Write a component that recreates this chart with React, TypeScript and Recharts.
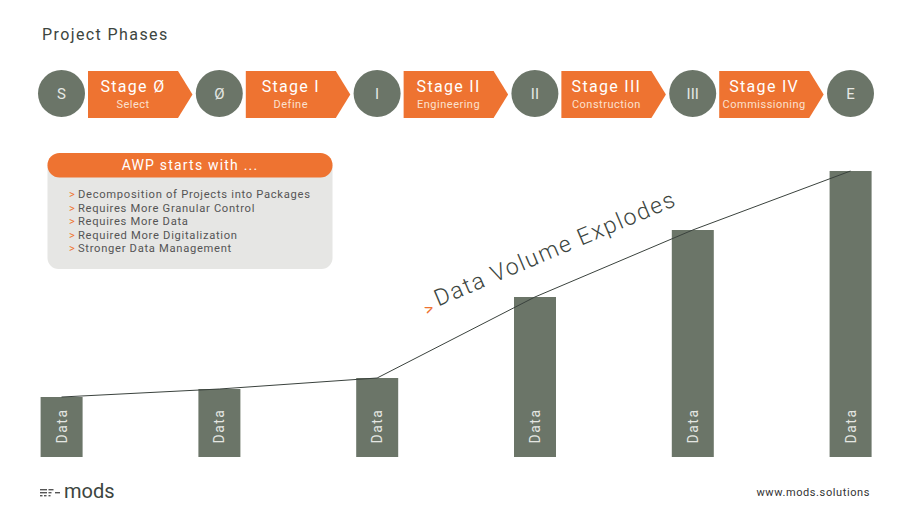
import { Bar, ComposedChart, LabelList, Line, XAxis, YAxis } from "recharts";

// gates between the phases, and the stage arrows between them
const gates = ["S", "Ø", "I", "II", "III", "E"];
const stageNames = ["Stage Ø", "Stage I", "Stage II", "Stage III", "Stage IV"];
const stageSubtitles = ["Select", "Define", "Engineering", "Construction", "Commissioning"];

// data volume per gate (relative units)
const dataVolume = [60, 68, 79, 160, 227, 286];
const barLabels = ["Data", "Data", "Data", "Data", "Data", "Data"];

const awpPoints = [
  "Decomposition of Projects into Packages",
  "Requires More Granular Control",
  "Requires More Data",
  "Required More Digitalization",
  "Stronger Data Management",
];

const chartData = dataVolume.map((v, i) => ({ idx: i, volume: v, label: barLabels[i] }));

const W = 912;
const H = 513;
const plotLeft = 61.5;
const plotRight = 850.5;
const step = (plotRight - plotLeft) / 5;

const ORANGE = "#ee7331";
const GRAY = "#6b7568";
const DARK = "#3c4540";
const FONT = "Roboto, sans-serif";

const renderDataLabel = (props: any) => {
  const { x, y, width, height, value } = props;
  const cx = x + width / 2;
  const cy = y + height - 31;
  return (
    <text
      x={cx}
      y={cy}
      transform={`rotate(-90 ${cx} ${cy})`}
      textAnchor="middle"
      dominantBaseline="central"
      fill="#e4e6e2"
      fontSize={14}
      letterSpacing={1.5}
      fontFamily={FONT}
    >
      {value}
    </text>
  );
};

const Decorations = () => (
  <svg width={W} height={H} style={{ position: "absolute", left: 0, top: 0 }}>
    <text x={42} y={40} fontSize={16} fill={DARK} letterSpacing={1.4} fontFamily={FONT}>
      Project Phases
    </text>

    {stageNames.map((name, i) => {
      const left = plotLeft + i * step + 26.5;
      return (
        <g key={name}>
          <polygon
            points={`${left},71 ${left + 90},71 ${left + 104.5},94.5 ${left + 90},118 ${left},118`}
            fill={ORANGE}
          />
          <text x={left + 45} y={92} textAnchor="middle" fontSize={16} fill="#fff" letterSpacing={1.3} fontFamily={FONT}>
            {name}
          </text>
          <text x={left + 45} y={108} textAnchor="middle" fontSize={11} fill="#fbe1cf" letterSpacing={0.5} fontFamily={FONT}>
            {stageSubtitles[i]}
          </text>
        </g>
      );
    })}

    {gates.map((g, i) => {
      const cx = plotLeft + i * step;
      return (
        <g key={g}>
          <circle cx={cx} cy={93.5} r={23.5} fill={GRAY} />
          <text x={cx} y={94} textAnchor="middle" dominantBaseline="central" fontSize={15} fill="#e6e8e4" fontFamily={FONT}>
            {g}
          </text>
        </g>
      );
    })}

    <rect x={47.5} y={156} width={285} height={113} rx={11} fill="#e6e6e4" />
    <rect x={47.5} y={153} width={285} height={24.5} rx={12} fill={ORANGE} />
    <text x={190} y={169.5} textAnchor="middle" fontSize={14} fill="#fff" letterSpacing={1.2} fontFamily={FONT}>
      AWP starts with ...
    </text>
    {awpPoints.map((p, i) => (
      <g key={p}>
        <text x={69} y={198 + i * 13.6} fontSize={11} fill={ORANGE} fontFamily={FONT}>
          {">"}
        </text>
        <text x={78} y={198 + i * 13.6} fontSize={11.2} fill="#555" letterSpacing={0.7} fontFamily={FONT}>
          {p}
        </text>
      </g>
    ))}

    <g transform="rotate(-23 437 306)">
      <text x={424} y={311} fontSize={17} fill={ORANGE} fontFamily={FONT}>
        {">"}
      </text>
      <text x={438} y={307} fontSize={23} fill={DARK} letterSpacing={1.7} fontWeight={300} fontFamily={FONT}>
        Data Volume Explodes
      </text>
    </g>

    <g fill="#555">
      <rect x={40} y={489} width={7} height={1.4} />
      <rect x={40} y={492} width={7} height={1.4} />
      <rect x={40} y={495} width={2.5} height={1.4} />
      <rect x={44} y={495} width={2.5} height={1.4} />
      <rect x={48.5} y={489} width={5} height={1.4} />
      <rect x={48.5} y={492} width={3} height={1.4} />
      <rect x={48.5} y={495} width={2} height={1.4} />
      <rect x={55} y={492} width={5} height={1.4} />
    </g>
    <text x={64} y={498} fontSize={20} fill={DARK} fontFamily={FONT}>
      mods
    </text>
    <text x={870} y={496} textAnchor="end" fontSize={11} fill="#333" letterSpacing={0.6} fontFamily={FONT}>
      www.mods.solutions
    </text>
  </svg>
);

export default function App() {
  return (
    <div style={{ position: "absolute", left: 0, top: 0, width: W, height: H, background: "#fff", overflow: "hidden" }}>
      <Decorations />
      <div style={{ position: "absolute", left: 0, top: 0 }}>
        <ComposedChart
          width={W}
          height={H}
          data={chartData}
          margin={{ top: 157, right: W - plotRight, bottom: 56, left: plotLeft }}
        >
          <XAxis type="number" dataKey="idx" domain={[0, 5]} hide />
          <YAxis type="number" domain={[0, 300]} hide />
          <Bar dataKey="volume" fill={GRAY} barSize={42} isAnimationActive={false}>
            <LabelList dataKey="label" content={renderDataLabel} />
          </Bar>
          <Line
            type="linear"
            dataKey="volume"
            stroke="#3a423d"
            strokeWidth={1}
            dot={false}
            activeDot={false}
            isAnimationActive={false}
          />
        </ComposedChart>
      </div>
    </div>
  );
}
